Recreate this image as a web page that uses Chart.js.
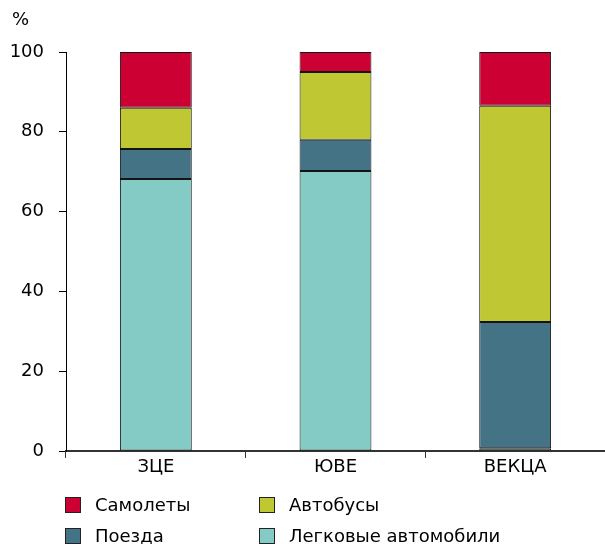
<!DOCTYPE html>
<html>
<head>
<meta charset="utf-8">
<script src="https://cdn.jsdelivr.net/npm/chart.js@4/dist/chart.umd.min.js"></script>
<style>
  html, body { margin: 0; padding: 0; background: #fff; }
  #wrap { position: relative; width: 605px; height: 544px; font-family: "DejaVu Sans", Verdana, sans-serif; }
  #c { position: absolute; left: 0; top: 0; }
  .lg { position: absolute; display: flex; align-items: center; font-size: 18px; line-height: 21px; color: #000; white-space: nowrap; }
  .lg i { display: inline-block; width: 14px; height: 14px; border: 1px solid #222; margin-right: 14px; }
</style>
</head>
<body>
<div id="wrap">
  <canvas id="c" width="605" height="544"></canvas>
</div>
<script>
// Regions and modal split of passenger transport, %
const regions = ['ЗЦЕ', 'ЮВЕ', 'ВЕКЦА'];
const cars   = [68.2, 70.2, 0.7];
const trains = [7.5, 7.8, 31.6];
const buses  = [10.3, 17.0, 54.2];
const planes = [14.0, 5.0, 13.5];
const yTicks = [0, 20, 40, 60, 80, 100];

const seriesNames = ['Легковые автомобили', 'Поезда', 'Автобусы', 'Самолеты'];
const seriesColors = ['#84cbc6', '#447385', '#bfc832', '#cc0033'];
const seriesData = [cars, trains, buses, planes];

const FONT = '"DejaVu Sans", Verdana, sans-serif';

const datasets = seriesData.map((d, i) => ({
  label: seriesNames[i],
  data: d,
  backgroundColor: seriesColors[i],
  borderColor: '#141414',
  borderWidth: 1,
  borderSkipped: false,
  barPercentage: 0.4,
  categoryPercentage: 1.0
}));

// "%" unit label above the value axis
const unitLabel = {
  id: 'unitLabel',
  afterDraw(chart) {
    const ctx = chart.ctx;
    ctx.save();
    ctx.font = '18px ' + FONT;
    ctx.fillStyle = '#000';
    ctx.textBaseline = 'middle';
    ctx.textAlign = 'left';
    ctx.fillText('%', 12, 20);
    ctx.restore();
  }
};

new Chart(document.getElementById('c'), {
  type: 'bar',
  data: { labels: regions, datasets },
  options: {
    responsive: false,
    animation: false,
    layout: { padding: { left: 0, right: 0, top: 52, bottom: 63 } },
    plugins: { legend: { display: false }, tooltip: { enabled: false } },
    scales: {
      x: {
        stacked: true,
        offset: true,
        grid: { offset: true, drawOnChartArea: false, drawTicks: true, tickLength: 7, color: '#333', lineWidth: 1 },
        border: { display: true, color: '#333', width: 2 },
        ticks: { color: '#000', font: { family: FONT, size: 18 }, padding: -1, maxRotation: 0 },
        afterFit(s) { s.height = 30; }
      },
      y: {
        stacked: true,
        min: 0, max: 100,
        afterBuildTicks(s) { s.ticks = yTicks.map(v => ({ value: v })); },
        grid: { drawOnChartArea: false, drawTicks: true, tickLength: 7, color: '#000' },
        border: { display: true, color: '#000', width: 1 },
        ticks: { color: '#000', font: { family: FONT, size: 18 }, padding: 15 },
        afterFit(s) { s.width = 66; }
      }
    }
  },
  plugins: [unitLabel]
});

// Legend laid out in two rows under the plot
const legendItems = [
  { name: 'Самолеты', color: '#cc0033', x: 65, y: 494 },
  { name: 'Автобусы', color: '#bfc832', x: 259, y: 494 },
  { name: 'Поезда', color: '#447385', x: 65, y: 525 },
  { name: 'Легковые автомобили', color: '#84cbc6', x: 259, y: 525 }
];
const wrap = document.getElementById('wrap');
legendItems.forEach(it => {
  const el = document.createElement('div');
  el.className = 'lg';
  el.style.left = it.x + 'px';
  el.style.top = it.y + 'px';
  const sw = document.createElement('i');
  sw.style.background = it.color;
  el.appendChild(sw);
  el.appendChild(document.createTextNode(it.name));
  wrap.appendChild(el);
});
</script>
</body>
</html>
